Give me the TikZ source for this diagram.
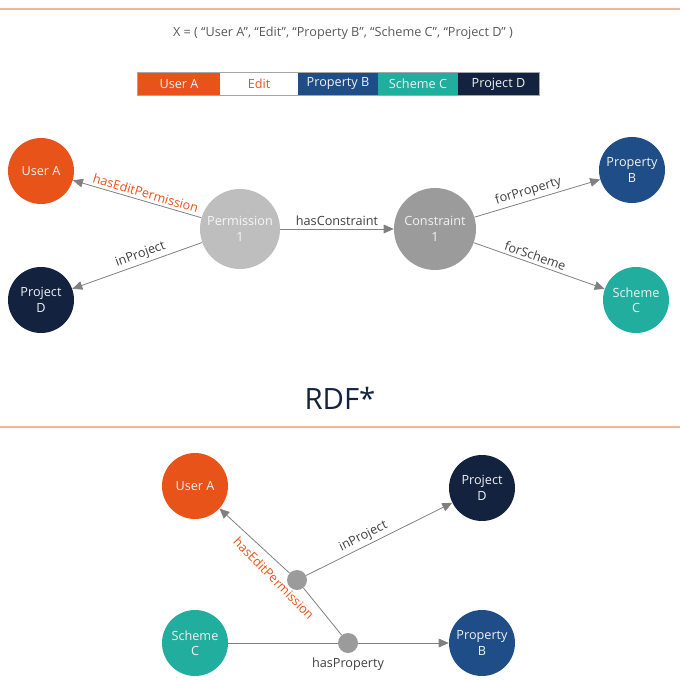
\documentclass[tikz,border=0pt]{standalone}
\usepackage{fontspec}
\setmainfont{Open Sans}
\usetikzlibrary{arrows.meta}

\definecolor{userorange}{HTML}{E8531A}
\definecolor{projnavy}{HTML}{12223F}
\definecolor{propblue}{HTML}{1F4D87}
\definecolor{schemeteal}{HTML}{22AE9E}
\definecolor{permgray}{HTML}{BEBEBE}
\definecolor{consgray}{HTML}{9B9B9B}
\definecolor{edgegray}{HTML}{808080}
\definecolor{rulecol}{HTML}{F3B599}

\begin{document}
\begin{tikzpicture}[x=0.75pt,y=-0.75pt,
  font=\fontsize{9.5}{11.5}\selectfont,
  ent/.style={circle, minimum size=49.5pt, inner sep=0pt, align=center, text=white!90!gray},
  blank/.style={circle, minimum size=15pt, inner sep=0pt, fill=consgray},
  seg/.style={minimum width=60pt, minimum height=16.5pt, inner sep=0pt, text=white!90!gray},
  rel/.style={-{Triangle[length=7.5pt,width=6.5pt]}, edgegray, line width=0.6pt},
  lbl/.style={midway, sloped, above, text=black!75, inner sep=2pt}]
  \useasboundingbox (0,0) rectangle (680,680);

  % rules and headings
  \draw[rulecol, line width=0.8pt] (0,9) -- (680,9);
  \draw[rulecol, line width=0.8pt] (0,427) -- (680,427);
  \node[text=black!65] (tuple) at (343,33) {X = ( ``User A'', ``Edit'', ``Property B'', ``Scheme C'', ``Project D'' )};
  \node[text=projnavy, font=\fontsize{22}{26}\selectfont] (rdf) at (340,398) {RDF*};

  % the tuple as a bar
  \node[seg, fill=userorange, minimum width=61.5pt] (bUser) at (179,84) {User A};
  \node[seg, fill=white, text=userorange, minimum width=58.5pt] (bEdit) at (259,84) {Edit};
  \node[seg, fill=propblue] (bProp) at (338,84) {Property B};
  \node[seg, fill=schemeteal] (bScheme) at (418,84) {Scheme C};
  \node[seg, fill=projnavy, minimum width=60.75pt] (bProj) at (498.5,84) {Project D};
  \draw[black!35, line width=0.6pt] (bUser.north west) rectangle (bProj.south east);

  % reified graph
  \node[ent, fill=userorange] (userA) at (41,171) {User A};
  \node[ent, fill=projnavy] (projD) at (41,300) {Project\\D};
  \node[ent, fill=permgray, minimum size=60pt, text=white!94!gray] (perm) at (240,229) {Permission\\1};
  \node[ent, fill=consgray, minimum size=61.5pt] (cons) at (435,229) {Constraint\\1};
  \node[ent, fill=propblue] (propB) at (632,170) {Property\\B};
  \node[ent, fill=schemeteal] (schemeC) at (636,300) {Scheme\\C};

  \draw[rel] (perm) -- (userA) node[lbl, text=userorange, pos=0.45] {hasEditPermission};
  \draw[rel] (perm) -- (projD) node[lbl, pos=0.45] {inProject};
  \draw[rel] (perm) -- (cons) node[lbl] {hasConstraint};
  \draw[rel] (cons) -- (propB) node[lbl, pos=0.45] {forProperty};
  \draw[rel] (cons) -- (schemeC) node[lbl, pos=0.45] {forScheme};

  % RDF* graph
  \node[ent, fill=userorange] (userA2) at (195,486) {User A};
  \node[ent, fill=projnavy] (projD2) at (482,488) {Project\\D};
  \node[ent, fill=schemeteal] (schemeC2) at (195,643) {Scheme\\C};
  \node[ent, fill=propblue] (propB2) at (482,643) {Property\\B};
  \node[blank] (t1) at (297,580) {};
  \node[blank] (t2) at (348,643) {};

  \draw[edgegray, line width=0.6pt] (schemeC2) -- (t2);
  \draw[rel] (t2) -- (propB2);
  \node[text=black!75] (hasProp) at (348,664) {hasProperty};
  \draw[edgegray, line width=0.6pt] (t2) -- (t1);
  \draw[rel] (t1) -- (userA2);
  \path (t2) -- (userA2) node[midway, sloped, below, text=userorange, inner sep=2pt] {hasEditPermission};
  \draw[rel] (t1) -- (projD2) node[lbl, pos=0.42] {inProject};
\end{tikzpicture}
\end{document}
